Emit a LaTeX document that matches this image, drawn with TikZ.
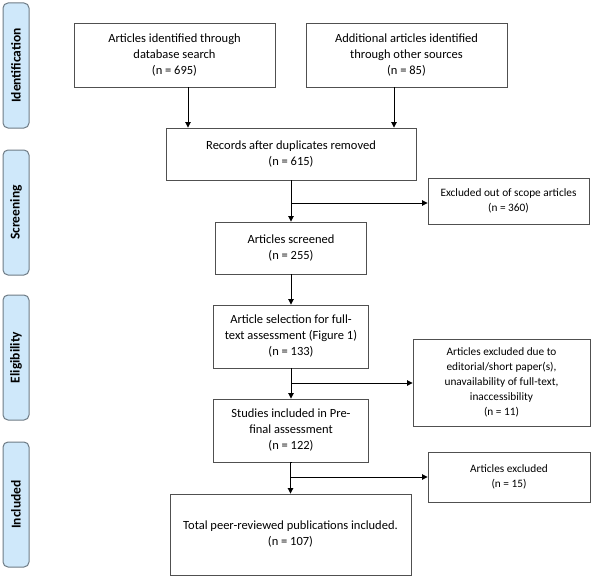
\documentclass[tikz,border=0pt]{standalone}
\usepackage{fontspec}
\setmainfont{Carlito}
\usetikzlibrary{arrows.meta}
\definecolor{sidefill}{HTML}{CFE8FA}
\definecolor{sideline}{HTML}{6E7B85}
\definecolor{boxline}{HTML}{505050}
\tikzset{
  mainbox/.style={draw=boxline, line width=0.9pt, fill=white, align=center, inner sep=2pt,
    font=\fontsize{12.5}{16}\selectfont},
  sidebox/.style={draw=boxline, line width=0.9pt, fill=white, align=center, inner sep=2pt,
    font=\fontsize{11.3}{15}\selectfont},
  phase/.style={draw=sideline, line width=1pt, fill=sidefill, rounded corners=5pt,
    minimum width=125pt, minimum height=26pt, rotate=90, inner sep=0pt,
    font=\fontsize{13.5}{15}\bfseries\selectfont},
  arr/.style={-{Triangle[length=5.5pt,width=5.5pt]}, line width=0.9pt, black},
  ln/.style={line width=0.9pt, black}
}
\begin{document}
\begin{tikzpicture}[x=1pt,y=-1pt]
\useasboundingbox (0,0) rectangle (594,578);
% phase labels
\node[phase] (pid) at (16,65.5) {Identification};
\node[phase] (psc) at (16,212.5) {Screening};
\node[phase] (pel) at (16,357.5) {Eligibility};
\node[phase] (pin) at (16,504.5) {Included};
% boxes
\node[mainbox, minimum width=201pt, minimum height=64pt] (db) at (174.5,55)
  {Articles identified through\\database search\\(n = 695)};
\node[mainbox, minimum width=201pt, minimum height=64pt] (other) at (406.5,55)
  {Additional articles identified\\through other sources\\(n = 85)};
\node[mainbox, minimum width=250pt, minimum height=52pt] (rec) at (291,154)
  {Records after duplicates removed\\(n = 615)};
\node[sidebox, minimum width=161pt, minimum height=46pt] (ex1) at (508.5,201)
  {Excluded out of scope articles\\(n = 360)};
\node[mainbox, minimum width=151pt, minimum height=52pt] (scr) at (291,248)
  {Articles screened\\(n = 255)};
\node[mainbox, minimum width=155pt, minimum height=63pt] (sel) at (291,336.5)
  {Article selection for full-\\text assessment (Figure 1)\\(n = 133)};
\node[sidebox, minimum width=177pt, minimum height=87pt] (ex2) at (501.5,382.5)
  {Articles excluded due to\\editorial/short paper(s),\\unavailability of full-text,\\inaccessibility\\(n = 11)};
\node[mainbox, minimum width=155pt, minimum height=63pt] (stu) at (291,430.5)
  {Studies included in Pre-\\final assessment\\(n = 122)};
\node[sidebox, minimum width=162pt, minimum height=50pt] (ex3) at (509,477)
  {Articles excluded\\(n = 15)};
\node[mainbox, minimum width=241pt, minimum height=81pt] (tot) at (290.5,534.5)
  {Total peer-reviewed publications included.\\(n = 107)};
% connectors
\draw[arr] (db.south -| 188,0) -- (rec.north -| 188,0);
\draw[arr] (other.south -| 394,0) -- (rec.north -| 394,0);
\draw[arr] (rec.south) -- (scr.north);
\draw[arr] (scr.south) -- (sel.north);
\draw[arr] (sel.south) -- (stu.north);
\draw[arr] (stu.south) -- (tot.north |- stu.south) -- (tot.north);
\coordinate (b1) at (291,203);
\coordinate (b2) at (291,383);
\coordinate (b3) at (291,477);
\draw[arr] (b1) -- (b1 -| ex1.west);
\draw[arr] (b2) -- (b2 -| ex2.west);
\draw[arr] (b3) -- (b3 -| ex3.west);
\end{tikzpicture}
\end{document}
